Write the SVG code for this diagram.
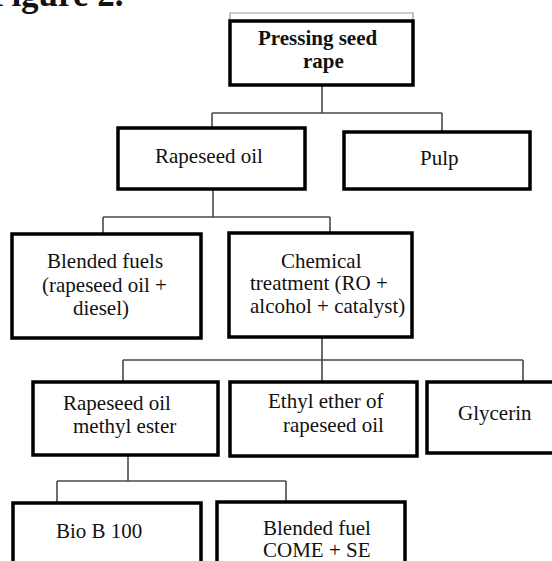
<svg xmlns="http://www.w3.org/2000/svg" width="552" height="561" viewBox="0 0 552 561">
<style>
  .bg { fill: #ffffff; }
  .box { fill: #ffffff; stroke: #000000; stroke-width: 3.5; }
  .con { fill: none; stroke: #4a4a4a; stroke-width: 1.6; }
  .faint { fill: none; stroke: #9a9a9a; stroke-width: 1.2; }
  text { font-family: "Liberation Serif", "Times New Roman", serif; font-size: 21px; fill: #111111; }
  .bold { font-weight: bold; }
  .cap { font-size: 35px; font-weight: bold; }
</style>
<rect class="bg" x="0" y="0" width="552" height="561"/>
<text class="cap" x="-10" y="6">Figure 2.</text>

<g id="connectors">
  <path class="con" d="M322,85 V113 M212,113 H442 M212,113 V128 M442,113 V132"/>
  <path class="con" d="M213,189 V217 M103,217 H330 M103,217 V234 M330,217 V233"/>
  <path class="con" d="M322,337 V360 M123,360 H523 M123,360 V382 M322,360 V382 M523,360 V382"/>
  <path class="con" d="M128,455 V481 M57,481 H286 M57,481 V503 M286,481 V502"/>
</g>

<g id="node-pressing">
  <path class="faint" d="M230,21 V13 H413 V21"/>
  <rect class="box" x="230" y="21" width="183" height="64"/>
  <text class="bold" x="258" y="45">Pressing seed</text>
  <text class="bold" x="303" y="68">rape</text>
</g>

<g id="node-rapeseed-oil">
  <rect class="box" x="118" y="128" width="187" height="61"/>
  <text x="155" y="163">Rapeseed oil</text>
</g>

<g id="node-pulp">
  <rect class="box" x="344" y="132" width="186" height="57"/>
  <text x="420" y="165">Pulp</text>
</g>

<g id="node-blended-fuels">
  <rect class="box" x="12" y="234" width="189" height="104"/>
  <text x="47" y="268">Blended fuels</text>
  <text x="42" y="292">(rapeseed oil +</text>
  <text x="73" y="315">diesel)</text>
</g>

<g id="node-chemical">
  <rect class="box" x="229" y="233" width="183" height="104"/>
  <text x="281" y="268">Chemical</text>
  <text x="250" y="290">treatment (RO +</text>
  <text x="250" y="313">alcohol + catalyst)</text>
</g>

<g id="node-methyl-ester">
  <rect class="box" x="33" y="382" width="185" height="73"/>
  <text x="63" y="410">Rapeseed oil</text>
  <text x="73" y="433">methyl ester</text>
</g>

<g id="node-ethyl-ether">
  <rect class="box" x="230" y="382" width="187" height="74"/>
  <text x="268" y="408">Ethyl ether of</text>
  <text x="283" y="432">rapeseed oil</text>
</g>

<g id="node-glycerin">
  <rect class="box" x="427" y="382" width="140" height="71"/>
  <text x="458" y="420">Glycerin</text>
</g>

<g id="node-bio-b100">
  <rect class="box" x="13" y="503" width="188" height="70"/>
  <text x="56" y="538">Bio B 100</text>
</g>

<g id="node-blended-fuel-come">
  <rect class="box" x="217" y="502" width="188" height="70"/>
  <text x="263" y="535">Blended fuel</text>
  <text x="263" y="557">COME + SE</text>
</g>
</svg>
